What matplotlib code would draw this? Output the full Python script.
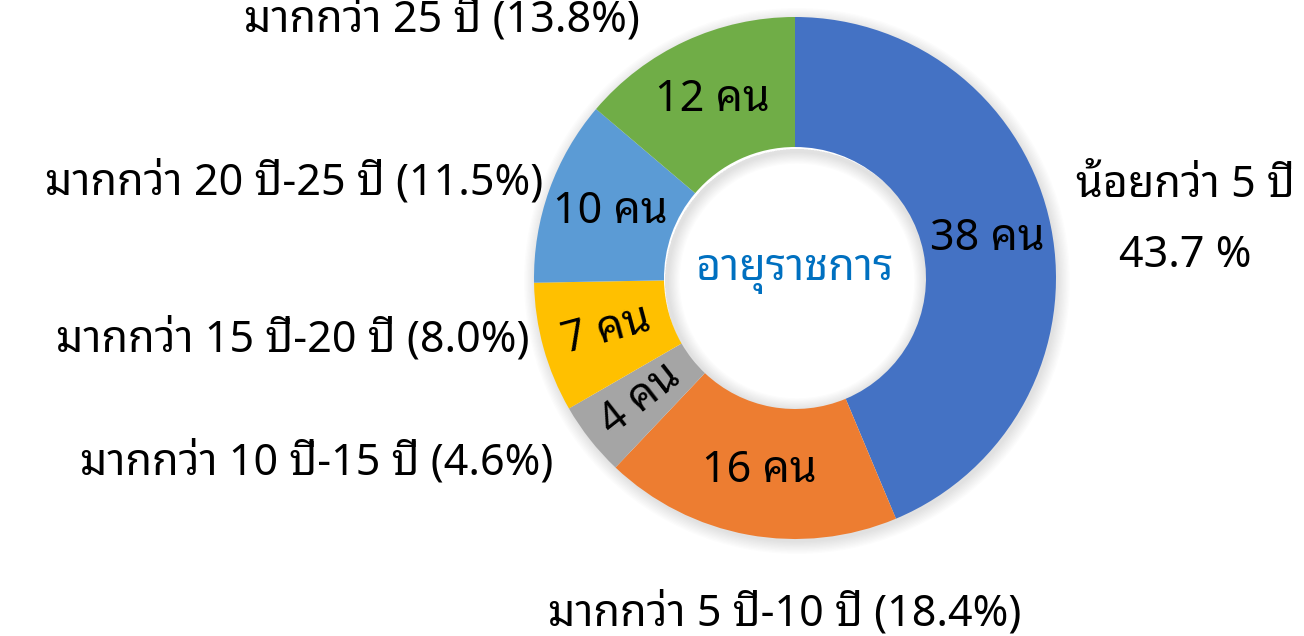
import matplotlib
matplotlib.use("Agg")
import matplotlib.pyplot as plt
from matplotlib.patches import Wedge
import numpy as np

plt.rcParams['font.family'] = ['Noto Sans Thai Looped', 'Noto Sans Thai', 'DejaVu Sans']

# data (counts of staff by years of service)
categories = ['น้อยกว่า 5 ปี', 'มากกว่า 5 ปี-10 ปี', 'มากกว่า 10 ปี-15 ปี',
              'มากกว่า 15 ปี-20 ปี', 'มากกว่า 20 ปี-25 ปี', 'มากกว่า 25 ปี']
counts = [38, 16, 4, 7, 10, 12]
colors = ['#4472C4', '#ED7D31', '#A5A5A5', '#FFC000', '#5B9BD5', '#70AD47']
title = 'อายุราชการ'

fig = plt.figure(figsize=(13.04, 6.36), dpi=100)
ax = fig.add_axes([0, 0, 1, 1])

cx, cy = 795, 358
R, w = 261, 130

# soft shadow around the ring
for k in range(10):
    ax.add_patch(Wedge((cx + 2, cy - 3), R + 12 - k * 1.3, 0, 360, width=25,
                       facecolor='#000000', alpha=0.012, lw=0))
    ax.add_patch(Wedge((cx + 2, cy - 3), R - w + 1, 0, 360, width=4 + k * 1.2,
                       facecolor='#000000', alpha=0.012, lw=0))

wedges, _ = ax.pie(counts, colors=colors, startangle=90, counterclock=False,
                   center=(cx, cy), radius=R, wedgeprops=dict(width=w, linewidth=0),
                   frame=True)
ax.set_xlim(0, 1304)
ax.set_ylim(0, 636)
ax.set_aspect('equal')
ax.axis('off')

fs = 31
# value labels inside the ring
rot = [0, 0, 38, 15, 0, 0]
for wd, n, r in zip(wedges, counts, rot):
    mid = np.deg2rad((wd.theta1 + wd.theta2) / 2)
    rr = R - w / 2
    ax.text(cx + rr * np.cos(mid), cy + rr * np.sin(mid), f'{n} คน',
            ha='center', va='center', fontsize=fs, rotation=r, color='black')

ax.text(cx, cy + 6, title, ha='center', va='center', fontsize=fs, color='#0070C0')

pct = [100 * c / sum(counts) for c in counts]

# category labels
ax.text(1185, 450, categories[0], ha='center', va='center', fontsize=fs)
ax.text(1185, 380, f'{pct[0]:.1f} %', ha='center', va='center', fontsize=fs)
ax.text(785, 22, f'{categories[1]} ({pct[1]:.1f}%)', ha='center', va='center', fontsize=fs)
ax.text(553, 173, f'{categories[2]} ({pct[2]:.1f}%)', ha='right', va='center', fontsize=fs)
ax.text(530, 296, f'{categories[3]} ({pct[3]:.1f}%)', ha='right', va='center', fontsize=fs)
ax.text(543, 453, f'{categories[4]} ({pct[4]:.1f}%)', ha='right', va='center', fontsize=fs)
ax.text(640, 616, f'{categories[5]} ({pct[5]:.1f}%)', ha='right', va='center', fontsize=fs)

fig.savefig('out.png', dpi=100, facecolor='white')
